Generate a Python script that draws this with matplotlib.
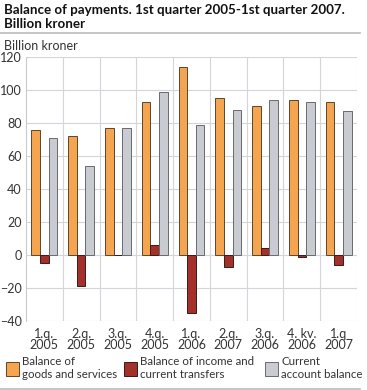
import matplotlib
matplotlib.use('Agg')
import matplotlib.pyplot as plt
from matplotlib.patches import Patch
import numpy as np

plt.rcParams['font.family'] = ['Lato', 'DejaVu Sans']

quarters = ['1.q.\n2005', '2.q.\n2005', '3.q.\n2005', '4.q.\n2005', '1.q.\n2006',
            '2.q.\n2007', '3.q.\n2006', '4. kv.\n2006', '1.q\n2007']
goods = [76, 72, 77, 93, 114, 95, 90, 94, 93]
income = [-5, -19, 0, 6, -35, -7, 4, -1, -6]
current = [71, 54, 77, 99, 79, 88, 94, 93, 87]
series_labels = ['Balance of\ngoods and services',
                 'Balance of income and\ncurrent transfers',
                 'Current\naccount balance']
colors = ['#F5A54F', '#A3302A', '#C8CBD2']
edges = ['#5a4630', '#3a1a18', '#6a6a6a']

W, H = 367, 390
fig = plt.figure(figsize=(W / 100, H / 100), dpi=100)
ax = fig.add_axes([26 / W, (H - 321) / H, 331 / W, (321 - 57) / H])

x = np.arange(len(quarters))
bw = 0.235
for k, (vals, c, e) in enumerate(zip([goods, income, current], colors, edges)):
    ax.bar(x + (k - 1) * bw, vals, bw, color=c, edgecolor=e, linewidth=0.7, zorder=3)

ax.set_xlim(-0.5, len(quarters) - 0.5)
ax.set_ylim(-40, 120)
ax.set_yticks(range(-40, 121, 20))
ax.set_xticks(x)
ax.set_xticklabels(quarters, fontsize=9, color='#333333', linespacing=0.95)
ax.tick_params(axis='y', labelsize=9, labelcolor='#333333', length=0, pad=3)
ax.tick_params(axis='x', length=0, pad=5)
for xv in np.arange(0.5, len(quarters) - 0.5):
    ax.axvline(xv, color='#d3d5da', linewidth=0.8, zorder=1)
ax.axvline(len(quarters) - 0.5, color='#d3d5da', linewidth=0.8, zorder=1)
ax.yaxis.grid(True, color='#d3d5da', linewidth=0.8, zorder=1)
for s in ['top', 'right', 'bottom']:
    ax.spines[s].set_visible(False)
ax.spines['left'].set_color('#c8cad0')
ax.spines['left'].set_linewidth(0.8)

fig.text(4 / W, 1 - 10 / H, 'Balance of payments. 1st quarter 2005-1st quarter 2007.',
         fontsize=9.6, fontweight='bold', va='center', ha='left', color='#111111')
fig.text(4 / W, 1 - 24.5 / H, 'Billion kroner',
         fontsize=9.6, fontweight='bold', va='center', ha='left', color='#111111')
fig.add_artist(plt.Line2D([0, 360 / W], [1 - 32.5 / H, 1 - 32.5 / H], color='#bbbbbb', linewidth=1.2))
fig.text(4 / W, 1 - 46 / H, 'Billion kroner', fontsize=9, va='center', ha='left', color='#333333')
fig.add_artist(plt.Line2D([0, 360 / W], [1 - 388.5 / H, 1 - 388.5 / H], color='#bbbbbb', linewidth=1.2))

handles = [Patch(facecolor=c, edgecolor=e, linewidth=0.7) for c, e in zip(colors, edges)]
leg_x = [6, 124, 265]
for hx, hd, lab in zip(leg_x, handles, series_labels):
    fig.legend([hd], [lab], loc='center left', bbox_to_anchor=(hx / W, 1 - 368 / H),
               frameon=False, fontsize=8.3, handlelength=1.1, handleheight=1.5,
               handletextpad=0.3, borderpad=0, borderaxespad=0,
               labelspacing=0, labelcolor='#333333')

fig.savefig('out.png', dpi=100)
